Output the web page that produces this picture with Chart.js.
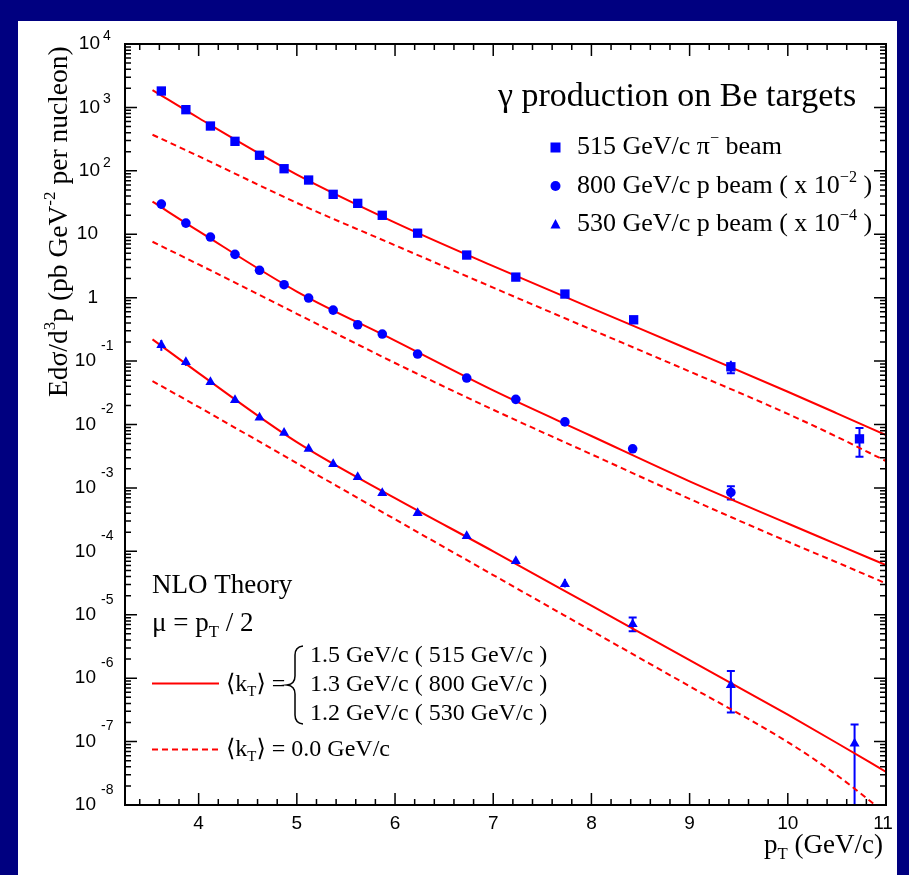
<!DOCTYPE html>
<html>
<head>
<meta charset="utf-8">
<script src="https://cdn.jsdelivr.net/npm/chart.js@4.4.1/dist/chart.umd.min.js"></script>
<style>
  html, body { margin: 0; padding: 0; background: #000080; }
  #wrap { position: relative; width: 909px; height: 875px; }
</style>
</head>
<body>
<div id="wrap"><canvas id="chart" width="909" height="875"></canvas></div>
<script>
// E706 direct photon cross sections on Be, pT bin centres in GeV/c
const pt515 = [3.62, 3.87, 4.12, 4.37, 4.62, 4.87, 5.12, 5.37, 5.62, 5.87, 6.23, 6.73, 7.23, 7.73, 8.43, 9.42, 10.73];
const sig515 = [1815, 921, 509, 292, 176, 108, 71.6, 42.6, 30.7, 19.9, 10.4, 4.70, 2.11, 1.14, 0.448, 0.0813, 0.00594];
const sig515Lo = [1560, 830, 480, 278, 168, 104, 69, 41, 29.6, 19.2, 10.0, 4.55, 2.04, 1.09, 0.425, 0.064, 0.00309];
const sig515Hi = [2100, 1010, 540, 306, 184, 112, 74.2, 44.2, 31.8, 20.6, 10.8, 4.85, 2.18, 1.19, 0.47, 0.101, 0.00877];

// 800 GeV/c p beam, already scaled by 1e-2
const pt800 = [3.62, 3.87, 4.12, 4.37, 4.62, 4.87, 5.12, 5.37, 5.62, 5.87, 6.23, 6.73, 7.23, 7.73, 8.42, 9.42];
const sig800 = [29.9, 15.0, 9.04, 4.82, 2.70, 1.60, 0.986, 0.637, 0.374, 0.267, 0.129, 0.0540, 0.0249, 0.0110, 0.00414, 0.000849];
const sig800Lo = [25.3, 13.2, 8.4, 4.55, 2.57, 1.53, 0.95, 0.615, 0.36, 0.257, 0.124, 0.0518, 0.0238, 0.0105, 0.00394, 0.000659];
const sig800Hi = [35.0, 17.0, 9.7, 5.1, 2.83, 1.67, 1.02, 0.66, 0.388, 0.277, 0.134, 0.0562, 0.026, 0.0115, 0.00434, 0.001067];

// 530 GeV/c p beam, already scaled by 1e-4
const pt530 = [3.62, 3.87, 4.12, 4.37, 4.62, 4.87, 5.12, 5.37, 5.62, 5.87, 6.23, 6.73, 7.23, 7.73, 8.42, 9.42, 10.68];
const sig530 = [0.179, 0.0964, 0.0467, 0.0243, 0.0129, 0.0074, 0.00414, 0.00237, 0.00148, 0.00083, 0.0004, 0.000174, 7.0e-5, 3.04e-5, 7.1e-6, 7.76e-7, 9.3e-8];
const sig530Lo = [0.145, 0.084, 0.043, 0.0228, 0.0122, 0.0070, 0.0039, 0.00225, 0.0014, 0.00079, 0.00038, 0.000165, 6.6e-5, 2.7e-5, 5.5e-6, 2.88e-7, 1e-9];
const sig530Hi = [0.215, 0.11, 0.051, 0.026, 0.0137, 0.0078, 0.0044, 0.0025, 0.00156, 0.00087, 0.00042, 0.000183, 7.4e-5, 3.68e-5, 9.06e-6, 1.30e-6, 1.86e-7];

// NLO curves, with kT smearing and without
const nloPt = [3.53, 4, 5, 6, 7, 8, 9, 10, 10.5, 11];
const nlo515Kt = [1880, 681, 87.5, 15.3, 3.15, 0.686, 0.151, 0.0328, 0.0150, 0.0068];
const nlo515 = [371, 170, 31.3, 6.7, 1.44, 0.314, 0.0686, 0.0147, 0.0064, 0.00265];
const nlo800Kt = [32.6, 11.2, 1.25, 0.21, 0.0344, 0.00659, 0.00127, 0.000275, 0.000129, 6.05e-5];
const nlo800 = [7.62, 3.34, 0.557, 0.0933, 0.0171, 0.00339, 0.000673, 0.000142, 6.7e-5, 3.12e-5];
const nlo530Kt = [0.22, 0.0646, 0.00527, 0.00069, 1.0e-4, 1.39e-5, 1.93e-6, 2.65e-7, 9.5e-8, 3.33e-8];
const nlo530 = [0.0484, 0.0189, 0.00246, 3.2e-4, 4.23e-5, 5.6e-6, 7.45e-7, 9.8e-8, 2.95e-8, 7.3e-9];

// axis ticks
const xTickLabels = [4, 5, 6, 7, 8, 9, 10, 11];
const yDecades = [4, 3, 2, 1, 0, -1, -2, -3, -4, -5, -6, -7, -8];

const BLUE = '#0000ff';
const RED = '#ff0000';
const NAVY = '#000080';
const SERIF = "'Liberation Serif', 'DejaVu Serif', serif";
const SANS = "'Liberation Sans', Arial, sans-serif";

const pts = (xs, ys) => xs.map((x, i) => ({ x: x, y: ys[i] }));

function curve(ys, dashed) {
  return {
    data: pts(nloPt, ys),
    showLine: true,
    borderColor: RED,
    borderWidth: 2,
    borderDash: dashed ? [6, 4] : [],
    pointRadius: 0,
    cubicInterpolationMode: 'monotone',
    order: 1
  };
}

function points(xs, ys, lo, hi, style, r) {
  return {
    data: pts(xs, ys),
    pointStyle: style,
    pointRadius: r,
    backgroundColor: BLUE,
    borderColor: BLUE,
    borderWidth: 0,
    showLine: false,
    errLo: lo,
    errHi: hi,
    order: 0
  };
}

// draws text made of plain pieces and {sup}/{sub} pieces, returns the width
function rich(ctx, parts, x, y, size, family, measureOnly) {
  let cx = x;
  parts.forEach(p => {
    let txt = p, s = size, dy = 0;
    if (typeof p === 'object') {
      txt = p.sup || p.sub;
      s = size * 0.62;
      dy = p.sup ? -size * 0.42 : size * 0.22;
    }
    ctx.font = s + 'px ' + family;
    if (!measureOnly) ctx.fillText(txt, cx, y + dy);
    cx += ctx.measureText(txt).width;
  });
  return cx - x;
}

const errorBars = {
  id: 'errorBars',
  beforeDatasetsDraw(chart) {
    const { ctx, chartArea: a } = chart;
    const xs = chart.scales.x, ys = chart.scales.y;
    ctx.save();
    ctx.beginPath();
    ctx.rect(a.left, a.top, a.right - a.left, a.bottom - a.top);
    ctx.clip();
    ctx.strokeStyle = BLUE;
    ctx.lineWidth = 2;
    chart.data.datasets.forEach(ds => {
      if (!ds.errLo) return;
      ds.data.forEach((p, i) => {
        const px = xs.getPixelForValue(p.x);
        const yc = ys.getPixelForValue(p.y);
        const yl = ys.getPixelForValue(ds.errLo[i]);
        const yh = ys.getPixelForValue(ds.errHi[i]);
        ctx.beginPath();
        ctx.moveTo(px, yl);
        ctx.lineTo(px, yh);
        if (yc - yh > 6) { ctx.moveTo(px - 4, yh); ctx.lineTo(px + 4, yh); }
        if (yl - yc > 6) { ctx.moveTo(px - 4, yl); ctx.lineTo(px + 4, yl); }
        ctx.stroke();
      });
    });
    ctx.restore();
  }
};

const frame = {
  id: 'frame',
  beforeDraw(chart) {
    const ctx = chart.ctx;
    ctx.save();
    ctx.fillStyle = NAVY;
    ctx.fillRect(0, 0, chart.width, chart.height);
    ctx.fillStyle = '#ffffff';
    ctx.fillRect(18, 21, 879, chart.height - 21);
    ctx.restore();
  },
  afterDraw(chart) {
    const { ctx, chartArea: a } = chart;
    const xs = chart.scales.x, ys = chart.scales.y;
    ctx.save();
    ctx.strokeStyle = '#000';
    ctx.fillStyle = '#000';

    // ticks, all four sides pointing inwards
    ctx.lineWidth = 1.5;
    ctx.beginPath();
    yDecades.forEach(e => {
      for (let m = 1; m <= 9; m++) {
        if (e === 4 && m > 1) break;
        const py = ys.getPixelForValue(m * Math.pow(10, e));
        const len = m === 1 ? 12 : 6;
        ctx.moveTo(a.left, py); ctx.lineTo(a.left + len, py);
        ctx.moveTo(a.right, py); ctx.lineTo(a.right - len, py);
      }
    });
    for (let i = 17; i <= 55; i++) {
      const px = xs.getPixelForValue(i / 5);
      const len = i % 5 === 0 ? 12 : 6;
      ctx.moveTo(px, a.bottom); ctx.lineTo(px, a.bottom - len);
      ctx.moveTo(px, a.top); ctx.lineTo(px, a.top + len);
    }
    ctx.stroke();

    ctx.lineWidth = 2;
    ctx.strokeRect(a.left, a.top, a.right - a.left, a.bottom - a.top);

    // y tick labels
    ctx.textBaseline = 'middle';
    yDecades.forEach(e => {
      const py = ys.getPixelForValue(Math.pow(10, e));
      ctx.font = '19px ' + SANS;
      if (e === 0 || e === 1) {
        ctx.textAlign = 'right';
        ctx.fillText(e === 0 ? '1' : '10', 98, py);
        return;
      }
      const neg = e < 0;
      ctx.textAlign = 'right';
      ctx.fillText('10', neg ? 96 : 100, py);
      ctx.textAlign = 'left';
      ctx.font = '14px ' + SANS;
      ctx.fillText(neg ? '-' + (-e) : String(e), neg ? 101 : 103, py - (neg ? 15 : 8));
    });

    // x tick labels
    ctx.textAlign = 'center';
    ctx.font = '19px ' + SANS;
    xTickLabels.forEach(v => {
      const px = xs.getPixelForValue(v);
      ctx.fillText(String(v), v === 11 ? px - 3 : px, a.bottom + 19);
    });

    // axis titles
    ctx.textAlign = 'left';
    ctx.textBaseline = 'alphabetic';
    const xt = ['p', { sub: 'T' }, ' (GeV/c)'];
    const xw = rich(ctx, xt, 0, 0, 27, SERIF, true);
    rich(ctx, xt, 883 - xw, 853, 27, SERIF);

    ctx.save();
    ctx.translate(67, 397);
    ctx.rotate(-Math.PI / 2);
    rich(ctx, ['Edσ/d', { sup: '3' }, 'p (pb GeV', { sup: '-2' }, ' per nucleon)'], 0, 0, 27.5, SERIF);
    ctx.restore();

    // upper legend
    rich(ctx, ['γ production on Be targets'], 498, 106, 34, SERIF);
    ctx.fillStyle = BLUE;
    ctx.fillRect(550.5, 142.5, 10, 10);
    ctx.beginPath(); ctx.arc(555.5, 186, 5, 0, Math.PI * 2); ctx.fill();
    ctx.beginPath(); ctx.moveTo(555.5, 219); ctx.lineTo(560.5, 228.5); ctx.lineTo(550.5, 228.5); ctx.closePath(); ctx.fill();
    ctx.fillStyle = '#000';
    rich(ctx, ['515 GeV/c π', { sup: '−' }, ' beam'], 577, 154, 26, SERIF);
    rich(ctx, ['800 GeV/c p beam ( x 10', { sup: '−2' }, ' )'], 577, 193, 26, SERIF);
    rich(ctx, ['530 GeV/c p beam ( x 10', { sup: '−4' }, ' )'], 577, 231, 26, SERIF);

    // theory legend
    rich(ctx, ['NLO Theory'], 152, 593, 27, SERIF);
    rich(ctx, ['μ = p', { sub: 'T' }, ' / 2'], 152, 631, 27, SERIF);

    ctx.strokeStyle = RED;
    ctx.lineWidth = 2;
    ctx.beginPath(); ctx.moveTo(152, 683.5); ctx.lineTo(219, 683.5); ctx.stroke();
    ctx.setLineDash([6, 4]);
    ctx.beginPath(); ctx.moveTo(152, 749.5); ctx.lineTo(218, 749.5); ctx.stroke();
    ctx.setLineDash([]);

    rich(ctx, ['⟨k', { sub: 'T' }, '⟩ ='], 226, 691, 24, SERIF);
    rich(ctx, ['⟨k', { sub: 'T' }, '⟩ = 0.0 GeV/c'], 226, 756, 24, SERIF);

    // curly brace grouping the three kT values
    ctx.strokeStyle = '#000';
    ctx.lineWidth = 1.5;
    ctx.beginPath();
    ctx.moveTo(303, 646);
    ctx.quadraticCurveTo(295, 647, 295, 655);
    ctx.lineTo(295, 676);
    ctx.quadraticCurveTo(295, 684, 287, 685);
    ctx.quadraticCurveTo(295, 686, 295, 694);
    ctx.lineTo(295, 715);
    ctx.quadraticCurveTo(295, 723, 303, 724);
    ctx.stroke();

    rich(ctx, ['1.5 GeV/c ( 515 GeV/c )'], 310, 662, 24, SERIF);
    rich(ctx, ['1.3 GeV/c ( 800 GeV/c )'], 310, 691, 24, SERIF);
    rich(ctx, ['1.2 GeV/c ( 530 GeV/c )'], 310, 720, 24, SERIF);

    ctx.restore();
  }
};

new Chart(document.getElementById('chart'), {
  type: 'scatter',
  data: {
    datasets: [
      points(pt515, sig515, sig515Lo, sig515Hi, 'rect', 6.6),
      points(pt800, sig800, sig800Lo, sig800Hi, 'circle', 4.8),
      points(pt530, sig530, sig530Lo, sig530Hi, 'triangle', 5.8),
      curve(nlo515Kt, false),
      curve(nlo515, true),
      curve(nlo800Kt, false),
      curve(nlo800, true),
      curve(nlo530Kt, false),
      curve(nlo530, true)
    ]
  },
  options: {
    responsive: false,
    animation: false,
    devicePixelRatio: 1,
    layout: { padding: { left: 125, right: 23, top: 44, bottom: 70 } },
    scales: {
      x: { type: 'linear', min: 3.25, max: 11, display: false },
      y: { type: 'logarithmic', min: 1e-8, max: 1e4, display: false }
    },
    plugins: { legend: { display: false }, tooltip: { enabled: false } }
  },
  plugins: [frame, errorBars]
});
</script>
</body>
</html>
